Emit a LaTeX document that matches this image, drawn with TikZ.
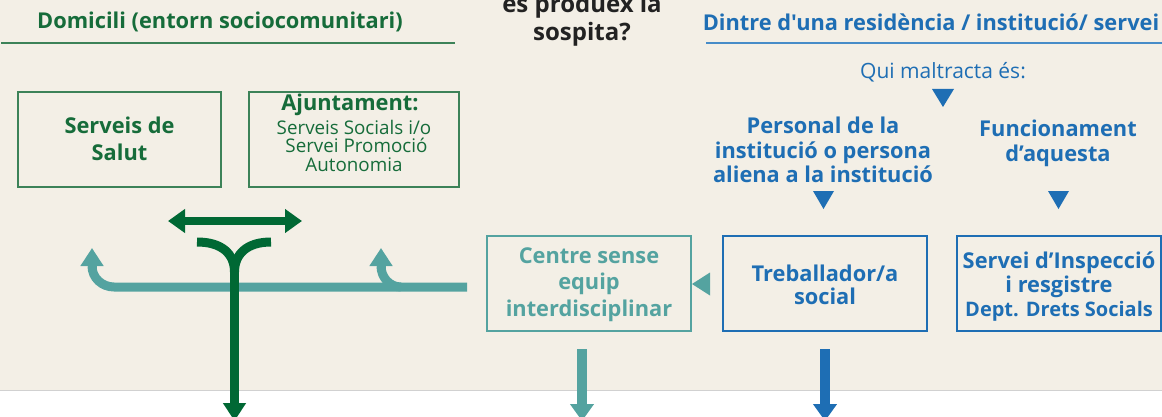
\documentclass[tikz,border=0pt]{standalone}
\usepackage{fontspec}
\setmainfont{Open Sans}[Ligatures=TeXOff]
\usetikzlibrary{arrows.meta}
\definecolor{bg}{RGB}{243,239,230}
\definecolor{dgreen}{RGB}{0,104,52}
\definecolor{tgreen}{RGB}{22,108,58}
\definecolor{bgreen}{RGB}{60,130,88}
\definecolor{tealc}{RGB}{84,163,160}
\definecolor{blu}{RGB}{30,110,180}
\definecolor{lblu}{RGB}{70,140,200}
\definecolor{dark}{RGB}{34,34,34}
\tikzset{
  box/.style={draw, line width=1.3pt, minimum width=#1, minimum height=95pt, inner sep=0pt},
  big/.style={font=\fontsize{21.8}{27}\selectfont\bfseries, align=center, inner sep=0pt},
  small/.style={font=\fontsize{18.8}{18.5}\selectfont, align=center, inner sep=0pt},
  thick9/.style={line width=9pt},
  head/.style={-{Triangle[length=18pt,width=22pt]}},
  dhead/.style={{Triangle[length=17pt,width=23pt]}-{Triangle[length=17pt,width=23pt]}},
}
\begin{document}
\begin{tikzpicture}[x=1pt,y=-1pt]
\useasboundingbox (0,0) rectangle (1162,417);
\fill[bg] (0,0) rectangle (1162,390);
\draw[black!18, line width=1pt] (0,390) -- (1162,390);

% headers
\node[big, text=tgreen] (hdom) at (220,22) {Domicili (entorn sociocomunitari)};
\draw[bgreen, line width=1.5pt] (1,43) -- (455,43);
\node[big, text=dark, font=\fontsize{24}{28.5}\selectfont\bfseries] (hmid) at (582,20.5) {es produex la\\sospita?};
\node[big, text=blu] (hdin) at (931,22) {Dintre d'una residència / institució/ servei};
\draw[lblu, line width=1.5pt] (706,43) -- (1162,43);

% green boxes
\node[box=203pt, draw=bgreen] (salut) at (119.5,139.5) {};
\node[big, text=tgreen] (salutt) at (119.5,139) {Serveis de\\Salut};
\node[box=210pt, draw=bgreen] (ajun) at (354,139.5) {};
\node[big, text=tgreen, anchor=north] (ajunt) at (350,94) {Ajuntament:};
\node[small, text=tgreen, anchor=north] (ajuns) at (354,120) {Serveis Socials i/o\\\ Servei Promoció\\Autonomia};

% blue upper texts
\node[small, text=blu, font=\fontsize{21}{24}\selectfont] (qui) at (943,72) {Qui maltracta és:};
\fill[blu] (932,89) -- (954,89) -- (943,107) -- cycle;
\node[big, text=blu, font=\fontsize{21.8}{24.5}\selectfont\bfseries] (pers) at (823,150) {Personal de la\\institució o persona\\aliena a la institució};
\node[big, text=blu, font=\fontsize{21.8}{25}\selectfont\bfseries] (func) at (1058,143) {Funcionament\\d’aquesta};
\fill[blu] (813,191) -- (834,191) -- (823.5,209) -- cycle;
\fill[blu] (1048,191) -- (1069,191) -- (1058.5,209) -- cycle;

% lower boxes
\node[box=204pt, draw=tealc] (centre) at (589,283.5) {};
\node[big, text=tealc, font=\fontsize{21.8}{26.5}\selectfont\bfseries] (centret) at (589,284.5) {Centre sense\\equip\\interdisciplinar};
\node[box=204pt, draw=blu] (treb) at (825,283.5) {};
\node[big, text=blu, font=\fontsize{21.8}{23}\selectfont\bfseries] (trebt) at (825,285) {Treballador/a\\social};
\node[box=204pt, draw=blu] (insp) at (1059,283.5) {};
\node[big, text=blu, font=\fontsize{21.8}{24}\selectfont\bfseries] (inspt) at (1059,287) {Servei d’Inspecció\\i resgistre\\{\fontsize{20}{24}\selectfont Dept. Drets Socials}};

% teal triangle between boxes
\fill[tealc] (692,284) -- (710,272.5) -- (710,295.5) -- cycle;

% green arrows
\coordinate (dl) at (168,221);
\coordinate (dr) at (302,221);
\draw[dgreen, line width=7.5pt, dhead] (dl) -- (dr);
\coordinate (yl) at (197,242);
\coordinate (yr) at (271,242);
\coordinate (yj) at (234.5,272);
\coordinate (yb) at (234.5,421);
\draw[dgreen, thick9] (yl) .. controls (222,242) and (234.5,254) .. (yj);
\draw[dgreen, thick9] (yr) .. controls (247,242) and (234.5,254) .. (yj);

% teal path
\coordinate (ts) at (467,287);
\coordinate (tl) at (92,266);
\coordinate (tlt) at (92,248);
\coordinate (tr) at (381,266);
\coordinate (trt) at (381,248);
\draw[tealc, thick9] (ts) -- (114,287) to[out=180,in=-90] (tl);
\draw[tealc, thick9, head] (92,270) -- (tlt);
\draw[tealc, thick9] (401,287) to[out=180,in=-90] (tr);
\draw[tealc, thick9, head] (381,270) -- (trt);

\draw[dgreen, thick9, head] (yj) -- (yb);

% down arrows
\draw[tealc, line width=10pt, -{Triangle[length=17pt,width=23pt]}] (582,349) -- (582,421);
\draw[blu, line width=10pt, -{Triangle[length=17pt,width=23pt]}] (825,349) -- (825,421);
\end{tikzpicture}
\end{document}
